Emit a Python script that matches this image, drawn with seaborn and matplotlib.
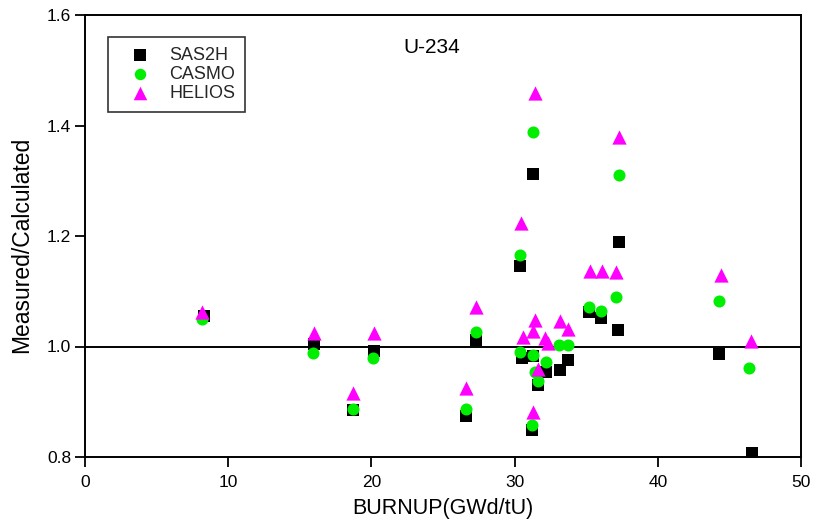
import numpy as np
import pandas as pd
import matplotlib
matplotlib.use("Agg")
import matplotlib.pyplot as plt
import seaborn as sns

# ---- data ----
sas2h_x = [8.3, 16.0, 18.7, 20.2, 26.6, 27.3, 30.4, 30.5, 31.2, 31.3, 31.3, 31.6, 32.2, 33.2, 33.7,
           35.2, 36.0, 37.2, 37.3, 44.3, 46.6]
sas2h_y = [1.055, 1.005, 0.885, 0.992, 0.875, 1.012, 1.146, 0.979, 0.848, 1.313, 0.983, 0.930, 0.953,
           0.957, 0.976, 1.063, 1.052, 1.030, 1.189, 0.987, 0.808]

casmo_x = [8.2, 15.9, 18.7, 20.1, 26.6, 27.3, 30.4, 30.4, 31.2, 31.3, 31.3, 31.4, 31.6, 32.2, 33.1,
           33.7, 35.2, 36.0, 37.1, 37.3, 44.3, 46.4]
casmo_y = [1.050, 0.988, 0.887, 0.980, 0.886, 1.026, 1.166, 0.990, 0.858, 1.389, 0.985, 0.953, 0.938,
           0.972, 1.003, 1.003, 1.071, 1.065, 1.089, 1.310, 1.082, 0.961]

helios_x = [8.2, 16.0, 18.7, 20.2, 26.6, 27.3, 30.45, 30.6, 31.25, 31.3, 31.4, 31.4, 31.6, 32.1, 32.3,
            33.2, 33.75, 35.3, 36.1, 37.1, 37.3, 44.4, 46.5]
helios_y = [1.063, 1.025, 0.916, 1.025, 0.924, 1.072, 1.224, 1.018, 0.881, 1.028, 1.048, 1.459, 0.960,
            1.015, 1.006, 1.047, 1.032, 1.137, 1.137, 1.134, 1.380, 1.129, 1.010]

codes = ["SAS2H", "CASMO", "HELIOS"]
x_ticks = [0, 10, 20, 30, 40, 50]
y_ticks = [0.8, 1.0, 1.2, 1.4, 1.6]
y_tick_labels = ["0.8", "1.0", "1.2", "1.4", "1.6"]

df = pd.concat([
    pd.DataFrame({"burnup": sas2h_x, "ratio": sas2h_y, "code": "SAS2H"}),
    pd.DataFrame({"burnup": casmo_x, "ratio": casmo_y, "code": "CASMO"}),
    pd.DataFrame({"burnup": helios_x, "ratio": helios_y, "code": "HELIOS"}),
], ignore_index=True)

sns.set_style("white")
plt.rcParams["font.family"] = ["Liberation Sans", "DejaVu Sans"]

colors = {"SAS2H": "#000000", "CASMO": "#00ee00", "HELIOS": "#ff00ff"}
markers = {"SAS2H": "s", "CASMO": "o", "HELIOS": "^"}
sizes = {"SAS2H": 70, "CASMO": 75, "HELIOS": 105}

fig = plt.figure(figsize=(8.14, 5.29), dpi=100)
ax = fig.add_axes([85 / 814, 1 - 457 / 529, (801 - 85) / 814, (457 - 15) / 529])

ax.axhline(1.0, color="black", lw=1.4, zorder=1)

for i, c in enumerate(codes):
    sub = df[df["code"] == c]
    sns.scatterplot(data=sub, x="burnup", y="ratio", ax=ax, color=colors[c],
                    marker=markers[c], s=sizes[c], linewidth=0, label=c, zorder=2 + i)

ax.set_xlim(0, 50)
ax.set_ylim(0.8, 1.6)
ax.set_xticks(x_ticks)
ax.set_yticks(y_ticks)
ax.set_yticklabels(y_tick_labels)
ax.tick_params(axis="both", direction="out", length=7, width=1.3, labelsize=12.5,
               bottom=True, left=True, top=False, right=False, colors="black")
ax.tick_params(axis="x", pad=6)
ax.tick_params(axis="y", pad=3)
for sp in ax.spines.values():
    sp.set_visible(True)
    sp.set_color("black")
    sp.set_linewidth(1.4)

ax.set_xlabel("BURNUP(GWd/tU)", fontsize=15.5, color="black", labelpad=6)
ax.set_ylabel("Measured/Calculated", fontsize=16.5, color="black", labelpad=6)
ax.yaxis.set_label_coords(-0.072, 0.48)

ax.text(24.2, 1.541, "U-234", fontsize=15, ha="center", va="center", color="black")

leg = ax.legend(loc="upper left", bbox_to_anchor=(0.032, 0.951), frameon=True, fancybox=False,
                edgecolor="black", fontsize=13, handletextpad=0.45, borderpad=0.55,
                labelspacing=0.12, markerscale=0.95, handlelength=2.4, borderaxespad=0)
leg.get_frame().set_linewidth(1.2)

fig.savefig("out.png", dpi=100)
